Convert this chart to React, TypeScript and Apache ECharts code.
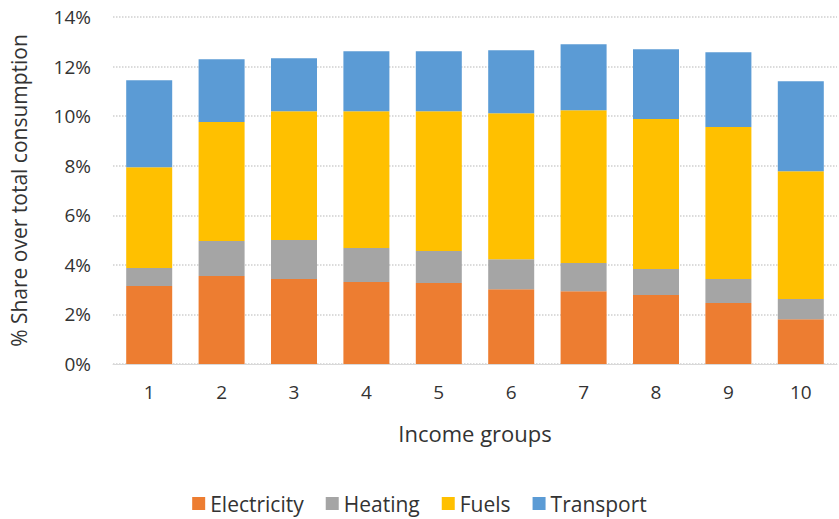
import React, { useEffect, useRef } from 'react';
import * as echarts from 'echarts';

const categories = ['1', '2', '3', '4', '5', '6', '7', '8', '9', '10'];
const electricity = [3.15, 3.55, 3.43, 3.31, 3.27, 3.02, 2.94, 2.78, 2.46, 1.81];
const heating = [0.72, 1.41, 1.57, 1.37, 1.29, 1.21, 1.13, 1.05, 0.97, 0.81];
const fuels = [4.07, 4.8, 5.2, 5.52, 5.64, 5.89, 6.17, 6.05, 6.13, 5.16];
const transport = [3.51, 2.54, 2.14, 2.42, 2.42, 2.54, 2.66, 2.82, 3.02, 3.63];

const font = 'Open Sans, Lato, sans-serif';

const App: React.FC = () => {
  const chartRef = useRef<HTMLDivElement>(null);

  useEffect(() => {
    document.body.style.margin = '0';
    if (!chartRef.current) return;
    const chart = echarts.init(chartRef.current, null, { renderer: 'svg' });
    const mk = (name: string, data: number[], color: string) => ({
      name,
      type: 'bar' as const,
      stack: 'total',
      data,
      barWidth: 46,
      itemStyle: { color },
    });
    chart.setOption({
      animation: false,
      textStyle: { fontFamily: font },
      grid: { left: 112, right: 2, top: 17, bottom: 155 },
      legend: {
        bottom: 0,
        left: 'center',
        itemWidth: 13,
        itemHeight: 13,
        itemGap: 22,
        icon: 'rect',
        textStyle: { fontSize: 21, color: '#333', fontFamily: font },
        data: ['Electricity', 'Heating', 'Fuels', 'Transport'],
      },
      xAxis: {
        type: 'category',
        data: categories,
        name: 'Income groups',
        nameLocation: 'middle',
        nameGap: 58,
        nameTextStyle: { fontSize: 22, color: '#333' },
        axisTick: { show: false },
        axisLine: { lineStyle: { color: '#d9d9d9' } },
        axisLabel: { fontSize: 19, color: '#333', margin: 18 },
      },
      yAxis: {
        type: 'value',
        min: 0,
        max: 14,
        interval: 2,
        name: '% Share over total consumption',
        nameLocation: 'middle',
        nameGap: 84,
        nameTextStyle: { fontSize: 21, color: '#333' },
        axisLabel: { fontSize: 19, color: '#333', formatter: '{value}%', margin: 22 },
        splitLine: { lineStyle: { color: '#d0d0d0', type: 'dotted', width: 1.5 } },
      },
      series: [
        mk('Electricity', electricity, '#ED7D31'),
        mk('Heating', heating, '#A5A5A5'),
        mk('Fuels', fuels, '#FFC000'),
        mk('Transport', transport, '#5B9BD5'),
      ],
    });
    return () => chart.dispose();
  }, []);

  return <div ref={chartRef} style={{ width: 839, height: 519, background: '#fff' }} />;
};

export default App;
